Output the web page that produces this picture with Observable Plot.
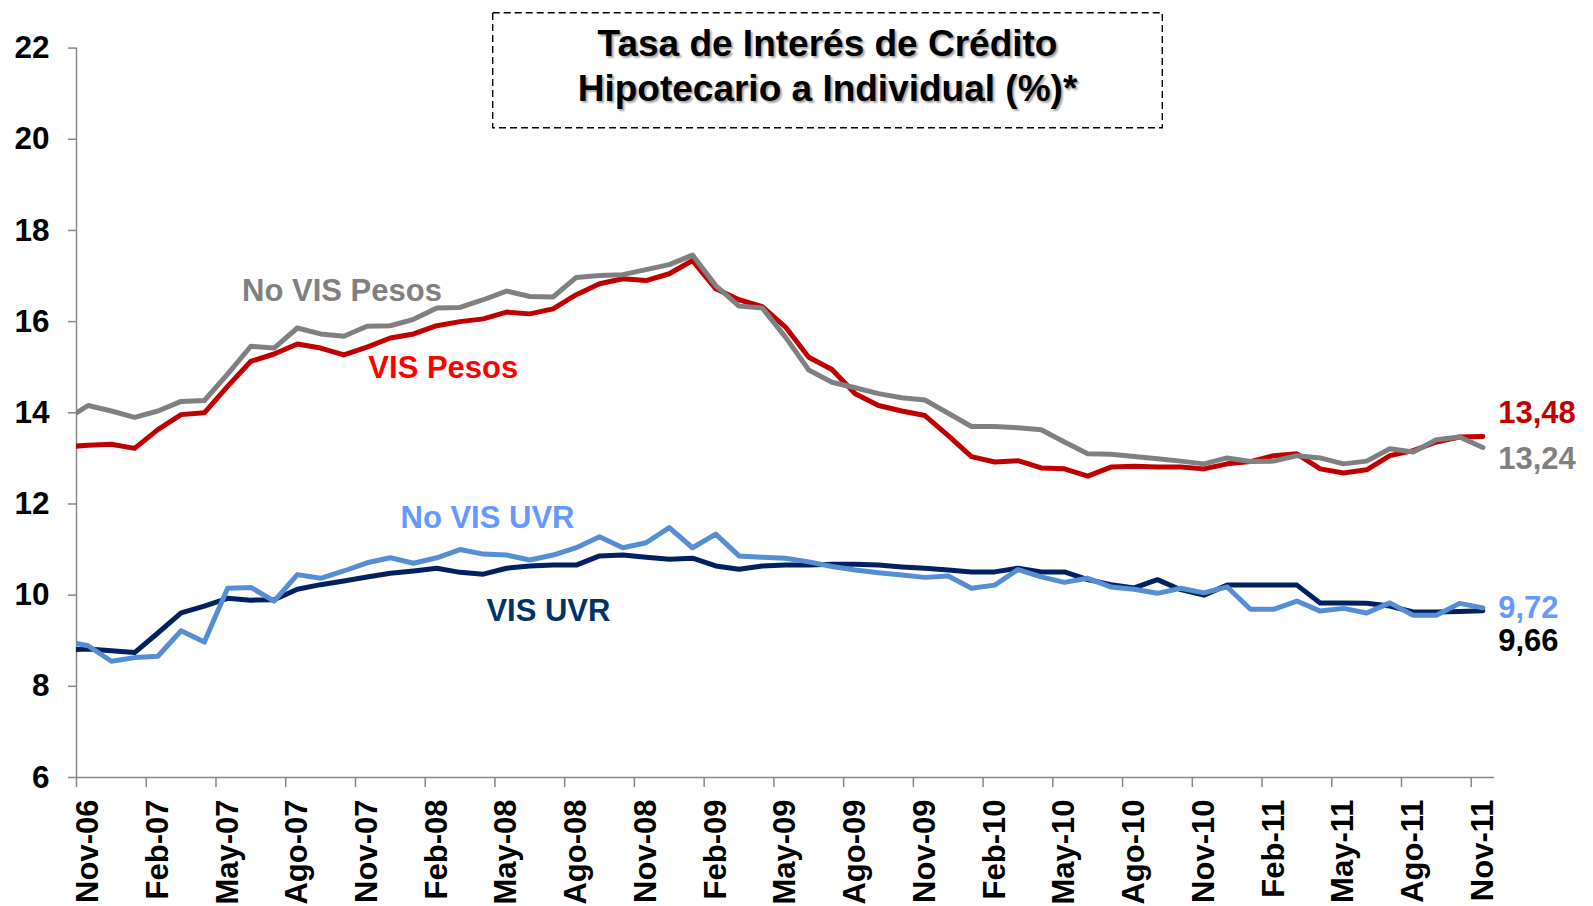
<!DOCTYPE html>
<html><head><meta charset="utf-8">
<script src="https://cdn.jsdelivr.net/npm/d3@7"></script>
<script src="https://cdn.jsdelivr.net/npm/@observablehq/plot@0.6"></script>
<style>
body{margin:0;background:#fff;font-family:"Liberation Sans",Arial,sans-serif;}
#wrap{position:relative;width:1593px;height:906px;overflow:hidden;}
#title{position:absolute;left:492px;top:11.5px;width:671px;height:116.5px;box-sizing:border-box;text-align:center;font-weight:bold;font-size:37px;line-height:44.7px;padding-top:10.5px;color:#000;text-shadow:2px 2px 2px rgba(0,0,0,0.35);}
#title svg{position:absolute;left:0;top:0;overflow:visible;}
#chart svg{display:block;}
</style></head>
<body>
<div id="wrap"><div id="chart"></div>
<div id="title"><svg width="671" height="116.5"><rect x="0.7" y="0.7" width="669.6" height="115.1" fill="none" stroke="#000" stroke-width="1.4" stroke-dasharray="7,4"/></svg><span style="position:relative">Tasa de Interés de Crédito<br>Hipotecario a Individual (%)*</span></div></div>
<script>
// First value is Oct-06 (clipped at the axis start); then Nov-06 ... Nov-11 monthly
const noVisPesos = [13.84,14.16,14.04,13.90,14.04,14.25,14.27,14.85,15.46,15.42,15.86,15.73,15.68,15.90,15.91,16.05,16.30,16.31,16.48,16.67,16.55,16.54,16.97,17.01,17.03,17.14,17.25,17.46,16.79,16.34,16.30,15.66,14.94,14.67,14.55,14.42,14.33,14.28,13.99,13.70,13.70,13.67,13.63,13.36,13.10,13.09,13.04,12.99,12.94,12.88,13.01,12.93,12.94,13.06,13.01,12.88,12.94,13.21,13.14,13.41,13.47,13.24];
const visPesos = [13.25,13.29,13.31,13.22,13.63,13.96,14.00,14.58,15.13,15.29,15.51,15.42,15.27,15.44,15.64,15.73,15.91,16.00,16.06,16.21,16.17,16.28,16.59,16.83,16.94,16.90,17.05,17.34,16.72,16.48,16.33,15.88,15.22,14.95,14.42,14.16,14.04,13.94,13.50,13.04,12.92,12.95,12.79,12.77,12.61,12.81,12.83,12.81,12.81,12.77,12.88,12.93,13.06,13.10,12.77,12.68,12.75,13.06,13.17,13.36,13.47,13.48];
const noVisUVR = [8.99,8.89,8.55,8.63,8.66,9.22,8.97,10.15,10.17,9.87,10.45,10.37,10.53,10.71,10.82,10.70,10.82,11.00,10.90,10.88,10.77,10.88,11.04,11.28,11.04,11.15,11.48,11.04,11.34,10.86,10.83,10.81,10.73,10.63,10.55,10.49,10.44,10.39,10.42,10.15,10.22,10.56,10.40,10.28,10.37,10.18,10.13,10.04,10.15,10.05,10.18,9.69,9.69,9.87,9.65,9.71,9.61,9.83,9.56,9.56,9.82,9.72];
const visUVR = [8.80,8.82,8.78,8.74,9.17,9.61,9.76,9.93,9.89,9.90,10.13,10.23,10.31,10.40,10.48,10.53,10.59,10.50,10.46,10.59,10.64,10.66,10.66,10.86,10.88,10.83,10.79,10.81,10.64,10.57,10.64,10.66,10.66,10.68,10.68,10.66,10.62,10.59,10.55,10.51,10.51,10.59,10.51,10.51,10.34,10.23,10.16,10.34,10.12,10.00,10.22,10.22,10.22,10.22,9.83,9.83,9.82,9.76,9.63,9.63,9.64,9.66];
const xTickLabels = ["Nov-06","Feb-07","May-07","Ago-07","Nov-07","Feb-08","May-08","Ago-08","Nov-08","Feb-09","May-09","Ago-09","Nov-09","Feb-10","May-10","Ago-10","Nov-10","Feb-11","May-11","Ago-11","Nov-11"];
const yTicks = [6,8,10,12,14,16,18,20,22];
const seriesNames = ["No VIS Pesos","VIS Pesos","No VIS UVR","VIS UVR"];

// month index: Nov-06 = 0 (point drawn mid-month)
const toRows = vals => vals.map((v, k) => ({m: k - 1 + 0.5, v}));
const fmt = v => d3.format(".2f")(v).replace(".", ",");
const last = a => a[a.length - 1];

const F = "Liberation Sans, Arial, sans-serif";
const grey = "#808080", red = "#C00000", light = "#558ED5", navy = "#002060";
const lab = (text, x, y, fill, anchor) =>
  Plot.text([{x, y, text}], {x: "x", y: "y", text: "text", fill, textAnchor: anchor, fontSize: 31, fontWeight: "bold", fontFamily: F});
const endX = 61.16;

const chart = Plot.plot({
  width: 1593, height: 906,
  marginLeft: 76, marginRight: 99, marginTop: 47.6, marginBottom: 129,
  style: {fontFamily: F, background: "#fff"},
  x: {domain: [0, 61]},
  y: {domain: [6, 22]},
  marks: [
    Plot.axisY({ticks: yTicks, tickSize: 8, tickPadding: 19, fontSize: 31.5, fontWeight: "bold", stroke: "#868686", strokeWidth: 1.5, fill: "#000", label: null}),
    Plot.axisX({ticks: xTickLabels.map((d, i) => i * 3), tickSize: 10, tickFormat: () => "", stroke: "#868686", strokeWidth: 1.5, label: null}),
    Plot.axisX({ticks: xTickLabels.map((d, i) => i * 3 + 0.5), tickSize: 0, tickPadding: 22, tickRotate: -90, tickFormat: (d, i) => xTickLabels[i], fontSize: 31, fontWeight: "bold", fill: "#000", label: null}),
    Plot.ruleX([0], {stroke: "#868686", strokeWidth: 1.5}),
    Plot.ruleY([6], {stroke: "#868686", strokeWidth: 1.5}),
    Plot.line(toRows(visPesos), {x: "m", y: "v", stroke: red, strokeWidth: 5, clip: true, strokeLinejoin: "round", strokeLinecap: "round"}),
    Plot.line(toRows(noVisPesos), {x: "m", y: "v", stroke: grey, strokeWidth: 5, clip: true, strokeLinejoin: "round", strokeLinecap: "round"}),
    Plot.line(toRows(visUVR), {x: "m", y: "v", stroke: navy, strokeWidth: 5, clip: true, strokeLinejoin: "round", strokeLinecap: "round"}),
    Plot.line(toRows(noVisUVR), {x: "m", y: "v", stroke: light, strokeWidth: 5, clip: true, strokeLinejoin: "round", strokeLinecap: "round"}),
    lab(seriesNames[0], 11.42, 16.68, grey, "middle"),
    lab(seriesNames[1], 15.78, 14.99, "#FF0000", "middle"),
    lab(seriesNames[2], 17.68, 11.70, "#6699FF", "middle"),
    lab(seriesNames[3], 20.3, 9.66, "#003366", "middle"),
    lab(fmt(last(visPesos)), endX, 13.99, red, "start"),
    lab(fmt(last(noVisPesos)), endX, 12.98, grey, "start"),
    lab(fmt(last(noVisUVR)), endX, 9.71, "#6699FF", "start"),
    lab(fmt(last(visUVR)), endX, 8.99, "#000", "start")
  ]
});
document.getElementById("chart").append(chart);
</script>
</body></html>
